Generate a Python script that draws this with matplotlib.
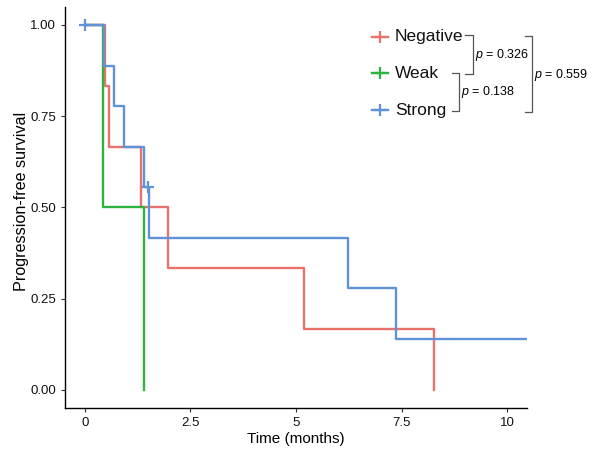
import matplotlib
matplotlib.use("Agg")
import matplotlib.pyplot as plt
from matplotlib.lines import Line2D

plt.rcParams["font.family"] = ["Liberation Sans", "DejaVu Sans"]
plt.rcParams["mathtext.fontset"] = "custom"
plt.rcParams["mathtext.it"] = "Liberation Sans:italic"
plt.rcParams["mathtext.rm"] = "Liberation Sans"

# step curves: times of change and survival after each step
neg_t = [0, 0.47, 0.58, 1.33, 1.96, 5.20, 8.27]
neg_s = [1.0, 0.833, 0.667, 0.5, 0.333, 0.167, 0.0]
neg_end = 8.27

weak_t = [0, 0.42, 1.40]
weak_s = [1.0, 0.5, 0.0]
weak_end = 1.40

strong_t = [0, 0.45, 0.69, 0.93, 1.40, 1.52, 6.24, 7.36]
strong_s = [1.0, 0.889, 0.778, 0.667, 0.556, 0.417, 0.278, 0.139]
strong_end = 10.47
strong_cens_t = [0.0, 1.50]
strong_cens_s = [1.0, 0.556]

groups = ["Negative", "Weak", "Strong"]
colors = ["#E8736C", "#2EB33F", "#5F93D8"]
p_labels = ["0.326", "0.138", "0.559"]

fig, ax = plt.subplots(figsize=(6.01, 4.5), dpi=100)
fig.subplots_adjust(left=0.108, right=0.877, top=0.985, bottom=0.093)

lw = 1.7
ax.step(neg_t + [neg_end], neg_s + [neg_s[-1]], where="post", color=colors[0], lw=lw)
ax.step(weak_t + [weak_end], weak_s + [weak_s[-1]], where="post", color=colors[1], lw=lw)
ax.step(strong_t + [strong_end], strong_s + [strong_s[-1]], where="post", color=colors[2], lw=lw)
ax.plot(strong_cens_t, strong_cens_s, ls="none", marker="+", ms=8, mew=1.6, color=colors[2])

ax.set_xlim(-0.47, 10.47)
ax.set_ylim(-0.05, 1.05)
ax.set_xticks([0, 2.5, 5, 7.5, 10])
ax.set_xticklabels(["0", "2.5", "5", "7.5", "10"])
ax.set_yticks([0, 0.25, 0.5, 0.75, 1.0])
ax.set_yticklabels(["0.00", "0.25", "0.50", "0.75", "1.00"])
ax.tick_params(labelsize=9.5, colors="#333333", length=3, width=0.8)
ax.tick_params(labelcolor="#111111")
for s in ["top", "right"]:
    ax.spines[s].set_visible(False)
for s in ["left", "bottom"]:
    ax.spines[s].set_linewidth(1.0)
ax.set_xlabel("Time (months)", fontsize=11, labelpad=2)
ax.set_ylabel("Progression-free survival", fontsize=11.6)
ax.yaxis.set_label_coords(-0.078, 0.516)

# figure pixel helpers (from top-left)
W, H = 601, 450
def fx(px):
    return px / W
def fy(py):
    return 1 - py / H

# legend drawn by hand
leg_y = [37, 73, 110]
for g, c, y in zip(groups, colors, leg_y):
    fig.add_artist(Line2D([fx(372), fx(388)], [fy(y), fy(y)], color=c, lw=lw, transform=fig.transFigure))
    fig.add_artist(Line2D([fx(380)], [fy(y)], color=c, marker="+", ms=8, mew=1.6, ls="none",
                          transform=fig.transFigure))
    fig.text(fx(395), fy(y), g, fontsize=12.5, va="center", ha="left", color="#111111")

# p-value brackets
bk = dict(color="#555555", lw=0.9, transform=fig.transFigure)
# Negative vs Weak
fig.add_artist(Line2D([fx(465), fx(473), fx(473), fx(465)], [fy(35), fy(35), fy(74), fy(74)], **bk))
fig.text(fx(475), fy(55), r"$p$ = " + p_labels[0], fontsize=9, va="center", ha="left")
# Weak vs Strong
fig.add_artist(Line2D([fx(452), fx(459), fx(459), fx(452)], [fy(73), fy(73), fy(111), fy(111)], **bk))
fig.text(fx(461), fy(92), r"$p$ = " + p_labels[1], fontsize=9, va="center", ha="left")
# Negative vs Strong
fig.add_artist(Line2D([fx(525), fx(532), fx(532), fx(525)], [fy(36), fy(36), fy(112), fy(112)], **bk))
fig.text(fx(534), fy(75), r"$p$ = " + p_labels[2], fontsize=9, va="center", ha="left")

fig.savefig("out.png", dpi=100)
